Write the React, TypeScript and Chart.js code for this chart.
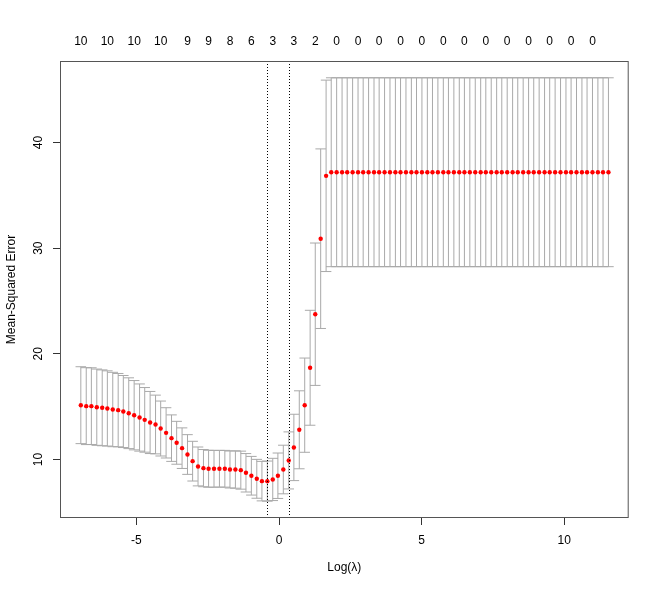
import { useEffect, useRef } from 'react';
import Chart from 'chart.js/auto';

// log(lambda) grid of the cv.glmnet fit
const logLambda = [
  -6.95, -6.76, -6.58, -6.39, -6.2, -6.02, -5.83, -5.64, -5.46, -5.27,
  -5.08, -4.89, -4.71, -4.52, -4.33, -4.15, -3.96, -3.77, -3.59, -3.4,
  -3.21, -3.03, -2.84, -2.65, -2.47, -2.28, -2.09, -1.9, -1.72, -1.53,
  -1.34, -1.16, -0.97, -0.78, -0.6, -0.41, -0.22, -0.04, 0.15, 0.34,
  0.52, 0.71, 0.9, 1.09, 1.27, 1.46, 1.65, 1.83, 2.02, 2.21,
  2.39, 2.58, 2.77, 2.95, 3.14, 3.33, 3.51, 3.7, 3.89, 4.08,
  4.26, 4.45, 4.64, 4.82, 5.01, 5.2, 5.38, 5.57, 5.76, 5.94,
  6.13, 6.32, 6.5, 6.69, 6.88, 7.07, 7.25, 7.44, 7.63, 7.81,
  8.0, 8.19, 8.37, 8.56, 8.75, 8.93, 9.12, 9.31, 9.49, 9.68,
  9.87, 10.06, 10.24, 10.43, 10.62, 10.8, 10.99, 11.18, 11.36, 11.55,
];

// mean cross-validated error
const cvm = [
  15.14, 15.05, 15.05, 14.95, 14.89, 14.83, 14.73, 14.67, 14.54, 14.38,
  14.19, 13.97, 13.75, 13.5, 13.31, 12.93, 12.52, 12.02, 11.58, 11.07,
  10.47, 9.84, 9.34, 9.18, 9.12, 9.12, 9.12, 9.12, 9.05, 9.05,
  8.99, 8.74, 8.46, 8.17, 7.95, 7.95, 8.11, 8.46, 9.05, 9.91,
  11.14, 12.81, 15.14, 18.68, 23.75, 30.9, 36.85, 37.19, 37.19, 37.19,
  37.19, 37.19, 37.19, 37.19, 37.19, 37.19, 37.19, 37.19, 37.19, 37.19,
  37.19, 37.19, 37.19, 37.19, 37.19, 37.19, 37.19, 37.19, 37.19, 37.19,
  37.19, 37.19, 37.19, 37.19, 37.19, 37.19, 37.19, 37.19, 37.19, 37.19,
  37.19, 37.19, 37.19, 37.19, 37.19, 37.19, 37.19, 37.19, 37.19, 37.19,
  37.19, 37.19, 37.19, 37.19, 37.19, 37.19, 37.19, 37.19, 37.19, 37.19,
];

// standard error of the cv estimate
const cvsd = [
  3.64, 3.64, 3.63, 3.61, 3.59, 3.56, 3.52, 3.47, 3.41, 3.35,
  3.28, 3.18, 3.06, 2.94, 2.78, 2.6, 2.38, 2.2, 2.03, 1.92,
  1.88, 1.88, 1.84, 1.76, 1.75, 1.74, 1.74, 1.74, 1.75, 1.77,
  1.8, 1.82, 1.83, 1.84, 1.87, 1.9, 2.0, 2.15, 2.3, 2.7,
  3.14, 3.69, 4.46, 5.44, 6.74, 8.5, 9.06, 8.94, 8.94, 8.94,
  8.94, 8.94, 8.94, 8.94, 8.94, 8.94, 8.94, 8.94, 8.94, 8.94,
  8.94, 8.94, 8.94, 8.94, 8.94, 8.94, 8.94, 8.94, 8.94, 8.94,
  8.94, 8.94, 8.94, 8.94, 8.94, 8.94, 8.94, 8.94, 8.94, 8.94,
  8.94, 8.94, 8.94, 8.94, 8.94, 8.94, 8.94, 8.94, 8.94, 8.94,
  8.94, 8.94, 8.94, 8.94, 8.94, 8.94, 8.94, 8.94, 8.94, 8.94,
];

// number of non-zero coefficients shown on the top axis
const topIndex = [0, 5, 10, 15, 20, 24, 28, 32, 36, 40, 44, 48, 52, 56, 60, 64, 68, 72, 76, 80, 84, 88, 92, 96];
const topNonzero = ['10', '10', '10', '10', '9', '9', '8', '6', '3', '3', '2', '0', '0', '0', '0', '0', '0', '0', '0', '0', '0', '0', '0', '0'];

const xTicks = [-5, 0, 5, 10];
const yTicks = [10, 20, 30, 40];
const lambdaMinIndex = 35;
const lambda1seIndex = 39;

const X_MIN = -7.68;
const X_MAX = 12.26;
const Y_MIN = 4.46;
const Y_MAX = 47.72;

const FONT = '"Liberation Sans", Arial, Helvetica, sans-serif';

const cvPlotPlugin = {
  id: 'cvPlot',
  beforeDatasetsDraw(chart: any) {
    const { ctx, chartArea, scales } = chart;
    const x = scales.x;
    const y = scales.y;
    const barw = (Math.max(...logLambda) - Math.min(...logLambda)) * 0.01;

    ctx.save();
    ctx.beginPath();
    ctx.rect(chartArea.left, chartArea.top, chartArea.right - chartArea.left, chartArea.bottom - chartArea.top);
    ctx.clip();
    ctx.strokeStyle = '#a9a9a9';
    ctx.lineWidth = 1;
    ctx.beginPath();
    logLambda.forEach((v, i) => {
      const up = y.getPixelForValue(cvm[i] + cvsd[i]);
      const lo = y.getPixelForValue(cvm[i] - cvsd[i]);
      const px = x.getPixelForValue(v);
      const l = x.getPixelForValue(v - barw);
      const r = x.getPixelForValue(v + barw);
      ctx.moveTo(px, up);
      ctx.lineTo(px, lo);
      ctx.moveTo(l, up);
      ctx.lineTo(r, up);
      ctx.moveTo(l, lo);
      ctx.lineTo(r, lo);
    });
    ctx.stroke();
    ctx.restore();
  },
  afterDatasetsDraw(chart: any) {
    const { ctx, chartArea, scales } = chart;
    const x = scales.x;
    const y = scales.y;

    // dotted lines at lambda.min and lambda.1se
    ctx.save();
    ctx.strokeStyle = '#000';
    ctx.lineWidth = 1;
    ctx.setLineDash([1, 2]);
    [lambdaMinIndex, lambda1seIndex].forEach((i) => {
      const px = Math.round(x.getPixelForValue(logLambda[i])) + 0.5;
      ctx.beginPath();
      ctx.moveTo(px, chartArea.top);
      ctx.lineTo(px, chartArea.bottom);
      ctx.stroke();
    });
    ctx.restore();

    // plot box
    ctx.save();
    ctx.strokeStyle = '#555';
    ctx.lineWidth = 1;
    ctx.strokeRect(
      chartArea.left + 0.5,
      chartArea.top + 0.5,
      chartArea.right - chartArea.left - 1,
      chartArea.bottom - chartArea.top - 1,
    );
    ctx.restore();

    // y tick labels, rotated like R's las = 0
    ctx.save();
    ctx.fillStyle = '#000';
    ctx.font = `12px ${FONT}`;
    ctx.textAlign = 'center';
    ctx.textBaseline = 'middle';
    yTicks.forEach((t) => {
      ctx.save();
      ctx.translate(chartArea.left - 21.5, y.getPixelForValue(t));
      ctx.rotate(-Math.PI / 2);
      ctx.fillText(String(t), 0, 0);
      ctx.restore();
    });
    ctx.restore();
  },
};

export default function App() {
  const canvasRef = useRef<HTMLCanvasElement | null>(null);

  useEffect(() => {
    if (!canvasRef.current) {
      return;
    }

    Chart.defaults.font.family = FONT;
    Chart.defaults.font.size = 12;
    Chart.defaults.color = '#000';

    const chart = new Chart(canvasRef.current, {
      type: 'scatter',
      data: {
        datasets: [
          {
            data: logLambda.map((v, i) => ({ x: v, y: cvm[i] })),
            pointRadius: 2.2,
            pointBackgroundColor: '#ff0000',
            pointBorderWidth: 0,
            showLine: false,
          },
        ],
      },
      options: {
        animation: false,
        responsive: false,
        events: [],
        layout: { padding: { left: 0, right: 31.3, top: 0, bottom: 0 } },
        plugins: {
          legend: { display: false },
          tooltip: { enabled: false },
        },
        scales: {
          x: {
            type: 'linear',
            position: 'bottom',
            min: X_MIN,
            max: X_MAX,
            afterBuildTicks: (scale: any) => {
              scale.ticks = xTicks.map((v) => ({ value: v }));
            },
            afterFit: (scale: any) => {
              scale.height = 75;
            },
            grid: { drawOnChartArea: false, drawTicks: true, tickLength: 7, color: '#333' },
            border: { display: false },
            ticks: { color: '#000', padding: 8, maxRotation: 0, autoSkip: false, font: { size: 12 } },
            title: {
              display: true,
              text: 'Log(λ)',
              color: '#000',
              font: { size: 12 },
              padding: { top: 0, bottom: 18 },
            },
          },
          x2: {
            type: 'linear',
            position: 'top',
            min: X_MIN,
            max: X_MAX,
            afterBuildTicks: (scale: any) => {
              scale.ticks = topIndex.map((i) => ({ value: logLambda[i] }));
            },
            afterFit: (scale: any) => {
              scale.height = 61;
            },
            grid: { display: false },
            border: { display: false },
            ticks: {
              color: '#000',
              padding: 4,
              maxRotation: 0,
              autoSkip: false,
              font: { size: 12 },
              callback: (_v: any, i: number) => topNonzero[i],
            },
          },
          y: {
            type: 'linear',
            min: Y_MIN,
            max: Y_MAX,
            afterBuildTicks: (scale: any) => {
              scale.ticks = yTicks.map((v) => ({ value: v }));
            },
            afterFit: (scale: any) => {
              scale.width = 60;
            },
            grid: { drawOnChartArea: false, drawTicks: true, tickLength: 7, color: '#333' },
            border: { display: false },
            ticks: { display: false },
            title: {
              display: true,
              text: 'Mean-Squared Error',
              color: '#000',
              font: { size: 12 },
              padding: { top: 4, bottom: 0 },
            },
          },
        },
      },
      plugins: [cvPlotPlugin],
    });

    return () => {
      chart.destroy();
    };
  }, []);

  return (
    <div style={{ position: 'absolute', left: 0, top: 0, width: 660, height: 593, background: '#fff' }}>
      <canvas ref={canvasRef} width={660} height={593} style={{ display: 'block' }} />
    </div>
  );
}
